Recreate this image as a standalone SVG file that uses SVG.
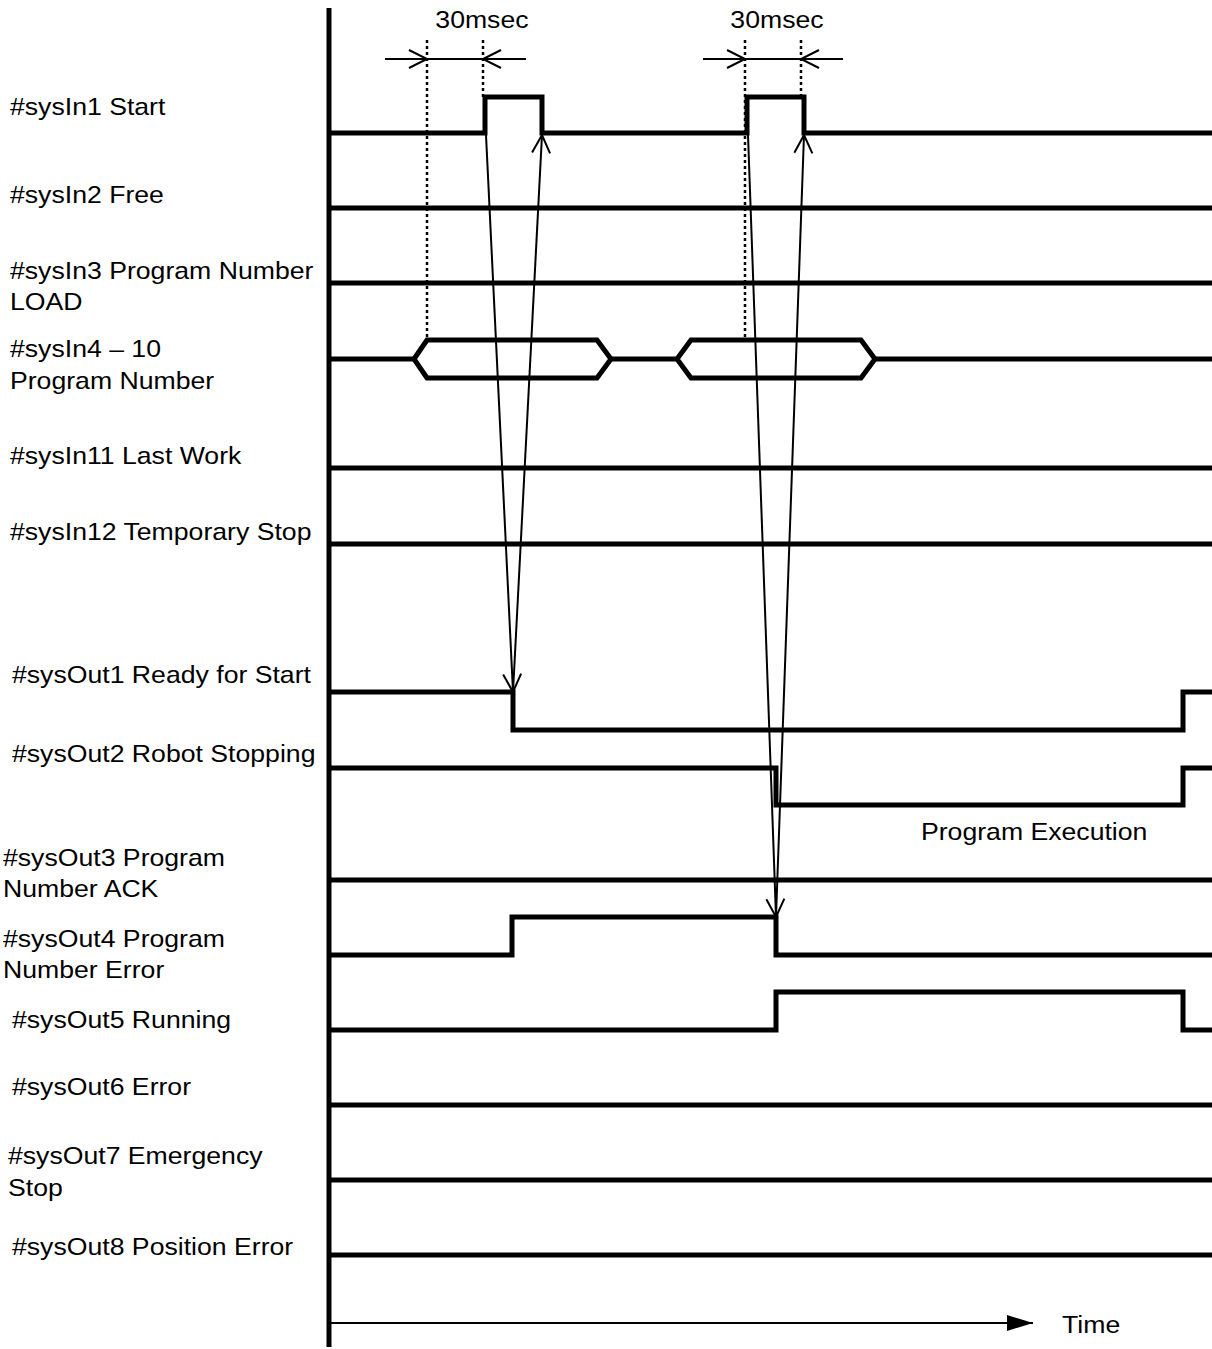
<svg xmlns="http://www.w3.org/2000/svg" width="1212" height="1349" viewBox="0 0 1212 1349">
<style>
text{font-family:"Liberation Sans",Arial,sans-serif;font-size:24px;fill:#000}
.sig{fill:none;stroke:#000;stroke-width:5;stroke-linejoin:miter;stroke-linecap:butt}
.thin{fill:none;stroke:#000;stroke-width:2}
.dot{fill:none;stroke:#000;stroke-width:2.5;stroke-dasharray:3 3}
</style>
<defs>
<marker id="open" markerUnits="userSpaceOnUse" markerWidth="24" markerHeight="24" viewBox="-20 -12 24 24" refX="0" refY="0" orient="auto">
<path d="M-18,-9 L0,0 L-18,9" fill="none" stroke="#000" stroke-width="2"/>
</marker>
<marker id="solid" markerUnits="userSpaceOnUse" markerWidth="30" markerHeight="20" viewBox="-28 -10 30 20" refX="0" refY="0" orient="auto">
<path d="M-26,-8 L0,0 L-26,8 Z" fill="#000"/>
</marker>
</defs>
<rect width="1212" height="1349" fill="#fff"/>
<g id="axis">
<line x1="329" y1="8" x2="329" y2="1347" stroke="#000" stroke-width="5"/>
</g>
<g id="sysIn1">
<text x="9" y="115" transform="scale(1.11 1)">#sysIn1 Start</text>
<polyline class="sig" points="329,133 485,133 485,97 542,97 542,133 747,133 747,97 804,97 804,133 1212,133"/>
</g>
<g id="sysIn2">
<text x="9" y="203" transform="scale(1.11 1)">#sysIn2 Free</text>
<line class="sig" x1="329" y1="208" x2="1212" y2="208"/>
</g>
<g id="sysIn3">
<text x="9" y="279" transform="scale(1.11 1)">#sysIn3 Program Number</text>
<text x="9" y="310" transform="scale(1.11 1)">LOAD</text>
<line class="sig" x1="329" y1="283" x2="1212" y2="283"/>
</g>
<g id="sysIn4">
<text x="9" y="357" transform="scale(1.11 1)">#sysIn4 – 10</text>
<text x="9" y="389" transform="scale(1.11 1)">Program Number</text>
<line class="sig" x1="329" y1="359" x2="414" y2="359"/>
<polygon class="sig" points="414,359 427,340 597,340 611,359 597,378 427,378"/>
<line class="sig" x1="611" y1="359" x2="677" y2="359"/>
<polygon class="sig" points="677,359 691,340 861,340 875,359 861,378 691,378"/>
<line class="sig" x1="875" y1="359" x2="1212" y2="359"/>
</g>
<g id="sysIn11">
<text x="9" y="464" transform="scale(1.11 1)">#sysIn11 Last Work</text>
<line class="sig" x1="329" y1="468" x2="1212" y2="468"/>
</g>
<g id="sysIn12">
<text x="9" y="540" transform="scale(1.11 1)">#sysIn12 Temporary Stop</text>
<line class="sig" x1="329" y1="544" x2="1212" y2="544"/>
</g>
<g id="sysOut1">
<text x="10.8" y="683" transform="scale(1.11 1)">#sysOut1 Ready for Start</text>
<polyline class="sig" points="329,692 513,692 513,730 1183,730 1183,692 1212,692"/>
</g>
<g id="sysOut2">
<text x="10.8" y="762" transform="scale(1.11 1)">#sysOut2 Robot Stopping</text>
<polyline class="sig" points="329,768 776,768 776,805 1183,805 1183,768 1212,768"/>
<text x="829.7" y="840" transform="scale(1.11 1)">Program Execution</text>
</g>
<g id="sysOut3">
<text x="2.7" y="866" transform="scale(1.11 1)">#sysOut3 Program</text>
<text x="2.7" y="897" transform="scale(1.11 1)">Number ACK</text>
<line class="sig" x1="329" y1="880" x2="1212" y2="880"/>
</g>
<g id="sysOut4">
<text x="2.7" y="947" transform="scale(1.11 1)">#sysOut4 Program</text>
<text x="2.7" y="978" transform="scale(1.11 1)">Number Error</text>
<polyline class="sig" points="329,955 512,955 512,917 776,917 776,955 1212,955"/>
</g>
<g id="sysOut5">
<text x="10.8" y="1028" transform="scale(1.11 1)">#sysOut5 Running</text>
<polyline class="sig" points="329,1030 776,1030 776,992 1183,992 1183,1030 1212,1030"/>
</g>
<g id="sysOut6">
<text x="10.8" y="1095" transform="scale(1.11 1)">#sysOut6 Error</text>
<line class="sig" x1="329" y1="1105" x2="1212" y2="1105"/>
</g>
<g id="sysOut7">
<text x="7.2" y="1164" transform="scale(1.11 1)">#sysOut7 Emergency</text>
<text x="7.2" y="1196" transform="scale(1.11 1)">Stop</text>
<line class="sig" x1="329" y1="1180" x2="1212" y2="1180"/>
</g>
<g id="sysOut8">
<text x="10.8" y="1255" transform="scale(1.11 1)">#sysOut8 Position Error</text>
<line class="sig" x1="329" y1="1255" x2="1212" y2="1255"/>
</g>
<g id="timing">
<line class="dot" x1="427" y1="40" x2="427" y2="340"/>
<line class="dot" x1="483" y1="40" x2="483" y2="97"/>
<line class="dot" x1="745" y1="40" x2="745" y2="340"/>
<line class="dot" x1="801" y1="40" x2="801" y2="97"/>
<text x="434.2" y="28" text-anchor="middle" transform="scale(1.11 1)">30msec</text>
<text x="700" y="28" text-anchor="middle" transform="scale(1.11 1)">30msec</text>
<line class="thin" x1="385" y1="59" x2="427" y2="59" marker-end="url(#open)"/>
<line class="thin" x1="427" y1="59" x2="483" y2="59"/>
<line class="thin" x1="526" y1="59" x2="483" y2="59" marker-end="url(#open)"/>
<line class="thin" x1="703" y1="59" x2="745" y2="59" marker-end="url(#open)"/>
<line class="thin" x1="745" y1="59" x2="801" y2="59"/>
<line class="thin" x1="843" y1="59" x2="801" y2="59" marker-end="url(#open)"/>
</g>
<g id="connectors">
<line class="thin" x1="486" y1="135" x2="513" y2="692" marker-end="url(#open)"/>
<line class="thin" x1="513" y1="692" x2="542" y2="135" marker-end="url(#open)"/>
<line class="thin" x1="748" y1="135" x2="776" y2="917" marker-end="url(#open)"/>
<line class="thin" x1="776" y1="917" x2="804" y2="135" marker-end="url(#open)"/>
</g>
<g id="time">
<line class="thin" x1="329" y1="1323" x2="1033" y2="1323" marker-end="url(#solid)"/>
<text x="956.8" y="1333" transform="scale(1.11 1)">Time</text>
</g>
</svg>
